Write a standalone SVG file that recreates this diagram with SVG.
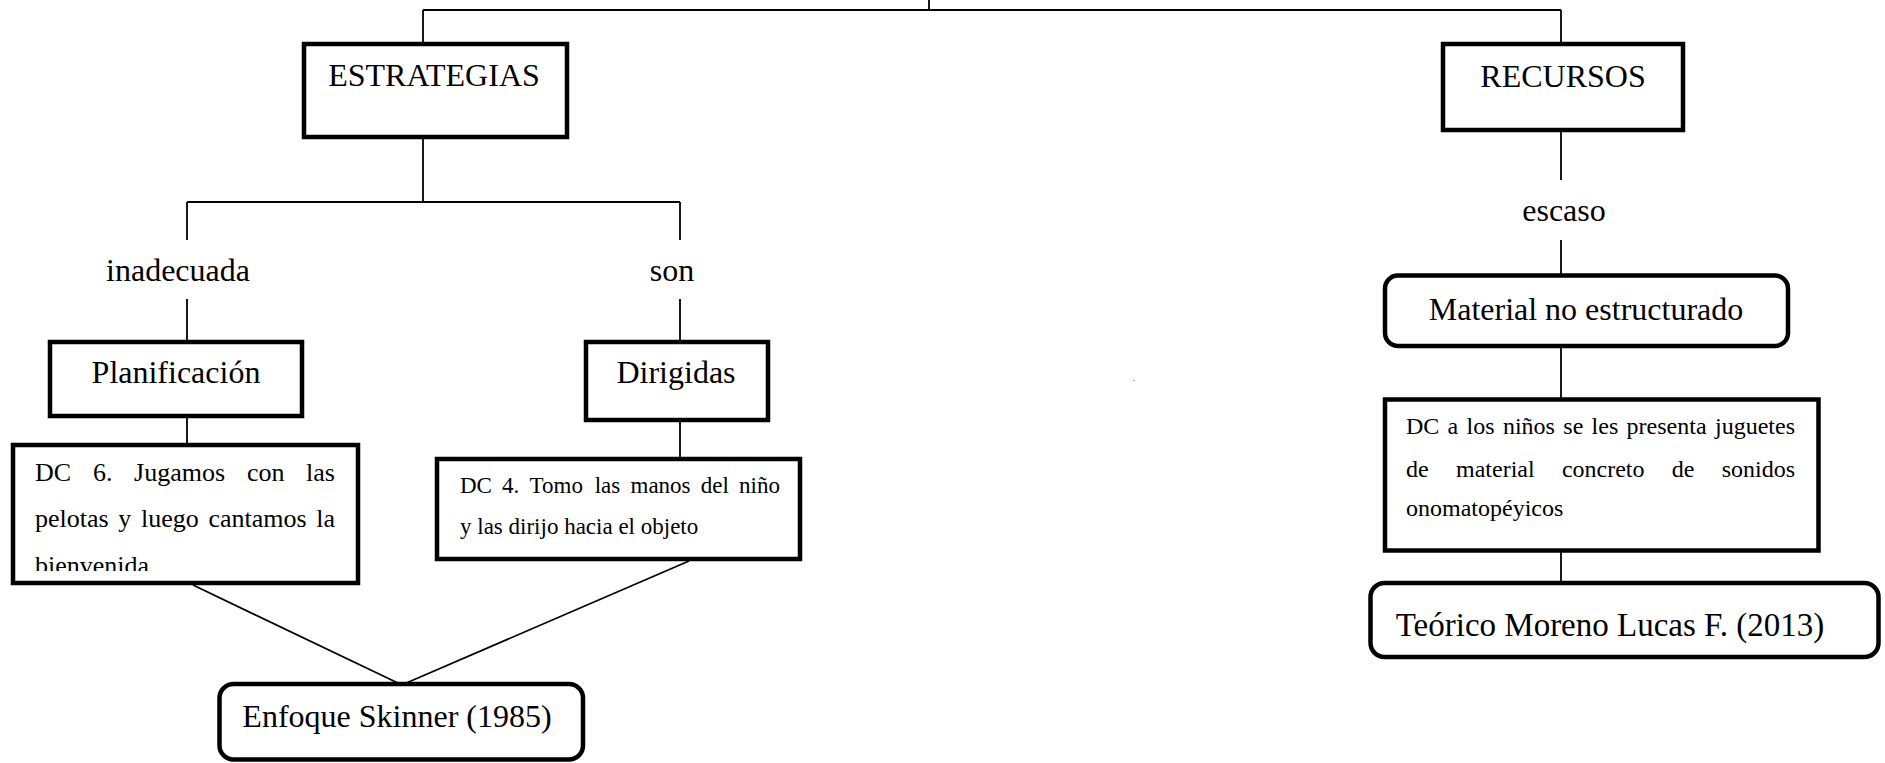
<svg xmlns="http://www.w3.org/2000/svg" width="1885" height="763" viewBox="0 0 1885 763">
<style>
.box{fill:#fff;stroke:#000;stroke-width:4.5}
.ln{stroke:#000;stroke-width:1.8;fill:none}
text{font-family:"Liberation Serif","Times New Roman",serif;fill:#000}
.h{font-size:32px;text-anchor:middle}
.s26{font-size:26px}
.s23{font-size:23px}
.s24{font-size:24px}
.e{text-anchor:end}
</style>
<defs>
<clipPath id="clip6"><rect x="0" y="440" width="400" height="131"/></clipPath>
</defs>
<rect width="1885" height="763" fill="#fff"/>
<g id="connectors">
<path class="ln" d="M929 0V10M423 10H1561M423 10V44M1561 10V44"/>
<path class="ln" d="M423 137V202M187 202H680M187 202V240M680 202V240"/>
<path class="ln" d="M187 299V342M680 299V342M187 416V459M680 420V459"/>
<path class="ln" d="M193 585L400 684M689 561L404 684"/>
<path class="ln" d="M1561 130V180M1561 240V275.5M1561 346V399.5M1561 550.5V583"/>
</g>
<g id="estrategias">
<rect class="box" x="304" y="44" width="263" height="93"/>
<text class="h" x="434" y="86">ESTRATEGIAS</text>
</g>
<g id="recursos">
<rect class="box" x="1443" y="44" width="240" height="86"/>
<text class="h" x="1563" y="87">RECURSOS</text>
</g>
<g id="inadecuada"><text class="h" x="178" y="281">inadecuada</text></g>
<g id="son"><text class="h" x="672" y="281">son</text></g>
<g id="escaso"><text class="h" x="1564" y="221">escaso</text></g>
<g id="planificacion">
<rect class="box" x="50" y="342" width="252" height="74"/>
<text class="h" x="176" y="383">Planificación</text>
</g>
<g id="dirigidas">
<rect class="box" x="586" y="342" width="182" height="78"/>
<text class="h" x="676" y="383">Dirigidas</text>
</g>
<g id="dc6">
<rect class="box" x="13" y="445" width="345" height="138"/>
<text class="s26" y="481"><tspan x="35">DC</tspan><tspan x="92.9">6.</tspan><tspan x="134.1">Jugamos</tspan><tspan x="246.9">con</tspan></text>
<text class="s26 e" x="335" y="481">las</text>
<text class="s26" y="527"><tspan x="35">pelotas</tspan><tspan x="118.3">y</tspan><tspan x="141">luego</tspan><tspan x="208.4">cantamos</tspan></text>
<text class="s26 e" x="335" y="527">la</text>
<text class="s26" x="35" y="574" clip-path="url(#clip6)">bienvenida.</text>
</g>
<g id="dc4">
<rect class="box" x="437" y="459" width="363" height="100"/>
<text class="s23" y="493"><tspan x="460">DC</tspan><tspan x="502.1">4.</tspan><tspan x="529.6">Tomo</tspan><tspan x="594.7">las</tspan><tspan x="630.5">manos</tspan><tspan x="700.7">del</tspan></text>
<text class="s23 e" x="780" y="493">niño</text>
<text class="s23" x="460" y="534">y las dirijo hacia el objeto</text>
</g>
<g id="enfoque">
<rect class="box" x="219.5" y="684" width="363.5" height="75.5" rx="14"/>
<text class="h" x="397" y="727">Enfoque Skinner (1985)</text>
</g>
<g id="material">
<rect class="box" x="1385" y="275.5" width="403" height="70.5" rx="13"/>
<text class="h" x="1586" y="320">Material no estructurado</text>
</g>
<g id="dc-recursos">
<rect class="box" x="1385" y="399.5" width="433.5" height="151"/>
<text class="s24" y="434"><tspan x="1406">DC</tspan><tspan x="1447.6">a</tspan><tspan x="1466.6">los</tspan><tspan x="1502.9">niños</tspan><tspan x="1563.3">se</tspan><tspan x="1591.6">les</tspan><tspan x="1626.6">presenta</tspan></text>
<text class="s24 e" x="1795" y="434">juguetes</text>
<text class="s24" y="477"><tspan x="1406">de</tspan><tspan x="1456">material</tspan><tspan x="1561.9">concreto</tspan><tspan x="1671.8">de</tspan></text>
<text class="s24 e" x="1795" y="477">sonidos</text>
<text class="s24" x="1406" y="516">onomatopéyicos</text>
</g>
<g id="teorico">
<rect class="box" x="1370.5" y="583" width="508" height="74" rx="14"/>
<text class="h" x="1610" y="636" style="font-size:33px">Teórico Moreno Lucas F. (2013)</text>
</g>
<g id="dot"><text x="1133" y="381" style="font-size:8px">.</text></g>
</svg>
